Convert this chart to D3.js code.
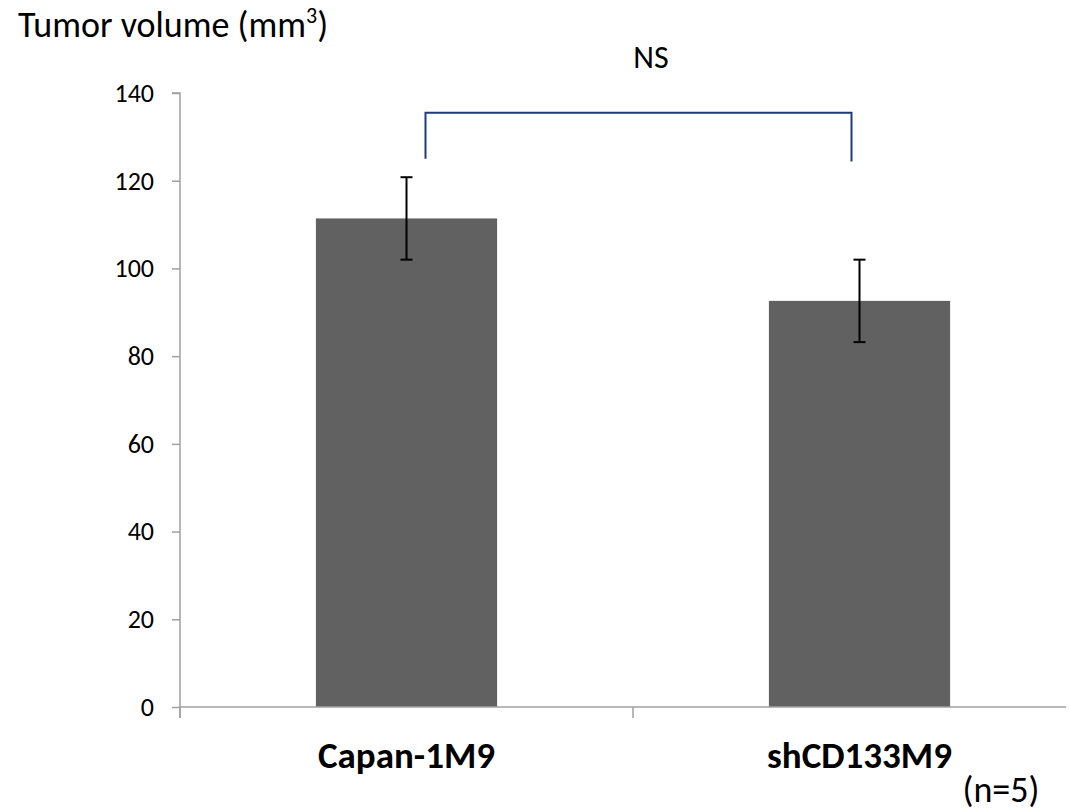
<!DOCTYPE html>
<html>
<head>
<meta charset="utf-8">
<script src="https://cdn.jsdelivr.net/npm/d3@7"></script>
<style>
  body { margin: 0; background: #fff; }
  text { font-family: Carlito, Lato, "Open Sans", sans-serif; fill: #000; }
</style>
</head>
<body>
<div id="chart"></div>
<script>
// data
var categories = ["Capan-1M9", "shCD133M9"];
var means = [111.4, 92.6];
var errors = [9.4, 9.4];
var yTicks = [0, 20, 40, 60, 80, 100, 120, 140];
var bracket = { top: 135.5, leftEnd: 125.0, rightEnd: 124.4, label: "NS" };

var svgWidth = 1070;
var svgHeight = 811;

var svg = d3.select("#chart")
    .append("svg")
    .attr("width", svgWidth)
    .attr("height", svgHeight);

var x0 = 180, y0 = 707;

var xScale = d3.scaleBand()
    .domain(categories)
    .range([x0, 1086])
    .paddingInner(0.6)
    .paddingOuter(0.3);

var yScale = d3.scaleLinear()
    .domain([0, 140])
    .range([y0, 93]);

// y axis
var leftAxis = d3.axisLeft(yScale)
    .tickValues(yTicks)
    .tickSize(8)
    .tickPadding(18);

var yAxisG = svg.append("g")
    .attr("transform", `translate(${x0}, 0)`)
    .call(leftAxis);
yAxisG.attr("font-size", null).attr("font-family", null);
yAxisG.select(".domain").attr("stroke", "#a0a0a0").attr("stroke-width", 1.5)
    .attr("d", `M-8,${yScale(140)}H0V${y0 + 11}`);
yAxisG.selectAll(".tick line").attr("stroke", "#a0a0a0").attr("stroke-width", 1.5);
yAxisG.selectAll(".tick text")
    .style("font-size", "26px")
    .attr("fill", "#000");

// bars
svg.selectAll(".bar")
    .data(means)
    .enter()
    .append("rect")
    .attr("class", "bar")
    .attr("x", (d, i) => xScale(categories[i]))
    .attr("y", d => yScale(d))
    .attr("width", xScale.bandwidth())
    .attr("height", d => y0 - yScale(d))
    .attr("fill", "#616161");

// x axis line and ticks at band boundaries
svg.append("line")
    .attr("x1", x0).attr("x2", 1066)
    .attr("y1", y0).attr("y2", y0)
    .attr("stroke", "#a0a0a0").attr("stroke-width", 1.5);

var step = xScale.step();
svg.selectAll(".xtick")
    .data([0, 1])
    .enter()
    .append("line")
    .attr("x1", d => x0 + d * step)
    .attr("x2", d => x0 + d * step)
    .attr("y1", y0)
    .attr("y2", y0 + 11)
    .attr("stroke", "#a0a0a0").attr("stroke-width", 1.5);

// error bars
var cx = i => xScale(categories[i]) + xScale.bandwidth() / 2;
var errG = svg.append("g").attr("stroke", "#000").attr("stroke-width", 2);
means.forEach(function(m, i) {
    var c = cx(i);
    errG.append("line").attr("x1", c).attr("x2", c)
        .attr("y1", yScale(m + errors[i])).attr("y2", yScale(m - errors[i]));
    errG.append("line").attr("x1", c - 6).attr("x2", c + 6)
        .attr("y1", yScale(m + errors[i])).attr("y2", yScale(m + errors[i]));
    errG.append("line").attr("x1", c - 6).attr("x2", c + 6)
        .attr("y1", yScale(m - errors[i])).attr("y2", yScale(m - errors[i]));
});

// category labels
svg.selectAll(".xlabel")
    .data(categories)
    .enter()
    .append("text")
    .attr("x", (d, i) => cx(i))
    .attr("y", 768)
    .attr("text-anchor", "middle")
    .attr("font-size", "37px")
    .attr("font-weight", "bold")
    .text(d => d);

// significance bracket
var bl = cx(0) + 19, br = cx(1) - 8;
svg.append("path")
    .attr("d", `M${bl},${yScale(bracket.leftEnd)}V${yScale(bracket.top)}H${br}V${yScale(bracket.rightEnd)}`)
    .attr("fill", "none")
    .attr("stroke", "#1f3a7a")
    .attr("stroke-width", 2);

svg.append("text")
    .attr("x", 651)
    .attr("y", 68)
    .attr("text-anchor", "middle")
    .attr("font-size", "32px")
    .text(bracket.label);

// y axis title
var title = svg.append("text")
    .attr("x", 18)
    .attr("y", 37)
    .attr("font-size", "36px");
title.append("tspan").text("Tumor volume (mm");
title.append("tspan").attr("font-size", "22px").attr("dy", -14).text("3");
title.append("tspan").attr("dy", 14).text(")");

// sample size
svg.append("text")
    .attr("x", 1001)
    .attr("y", 802)
    .attr("text-anchor", "middle")
    .attr("font-size", "36px")
    .text("(n=5)");
</script>
</body>
</html>
